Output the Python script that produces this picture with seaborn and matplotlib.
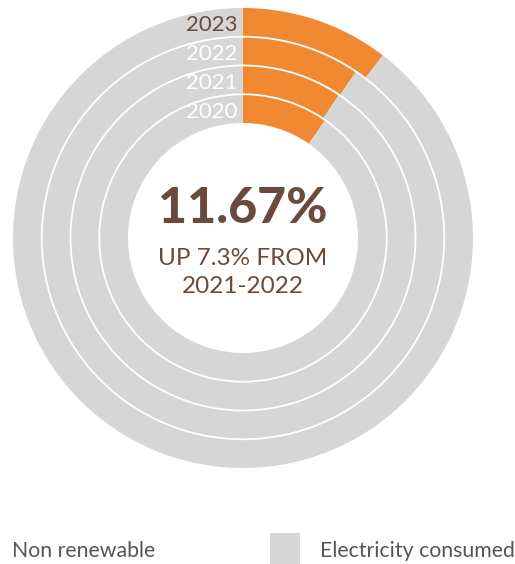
import matplotlib
matplotlib.use("Agg")
import matplotlib.pyplot as plt
from matplotlib.patches import Circle, Rectangle
import seaborn as sns

# ---- data ----
years = ["2020", "2021", "2022", "2023"]
non_renewable_share = [0.097, 0.094, 0.095, 0.104]
headline = "11.67%"
subtitle_lines = ["UP 7.3% FROM", "2021-2022"]
legend_labels = ["Non renewable", "Electricity consumed"]

ORANGE = "#F08931"
GREY = "#D6D6D6"
BROWN = "#6B4A3E"
LEGEND_TXT = "#555555"

sns.set_theme(style="white")
plt.rcParams["font.family"] = ["Lato", "DejaVu Sans"]

fig = plt.figure(figsize=(5.15, 5.64), dpi=100)
ax = fig.add_axes([13 / 515, 1 - 468 / 564, 460 / 515, 460 / 564])

ring_w = 0.125
n = len(years)
for i, (yr, v) in enumerate(zip(years, non_renewable_share)):
    r_out = 0.5 + ring_w * (i + 1)
    ax.pie([v, 1 - v], radius=r_out, startangle=90, counterclock=False,
           colors=[ORANGE, GREY],
           wedgeprops=dict(width=ring_w, linewidth=0, antialiased=True))
    # year label
    y_mid = r_out - ring_w / 2 - 0.013
    ax.text(-0.026, y_mid, yr, ha="right", va="center", fontsize=16,
            color=BROWN if i == n - 1 else "white")

# white separators between rings
for i in range(1, n):
    ax.add_patch(Circle((0, 0), 0.5 + ring_w * i, fill=False,
                        edgecolor="white", linewidth=1.3, zorder=5))

ax.text(0, 0.13, headline, ha="center", va="center", fontsize=36,
        fontweight="black", color=BROWN)
ax.text(0, -0.087, subtitle_lines[0], ha="center", va="center",
        fontsize=17.5, color=BROWN)
ax.text(0, -0.209, subtitle_lines[1], ha="center", va="center",
        fontsize=17.5, color=BROWN)

ax.set_xlim(-1, 1)
ax.set_ylim(-1, 1)
ax.set_aspect("equal")
ax.axis("off")

# legend
fig.text(12 / 515, 1 - 551 / 564, legend_labels[0], ha="left", va="center",
         fontsize=15.3, color=LEGEND_TXT)
fig.patches.append(Rectangle((270 / 515, 0), 30 / 515, 31 / 564,
                             transform=fig.transFigure, facecolor=GREY,
                             edgecolor="none"))
fig.text(320 / 515, 1 - 551 / 564, legend_labels[1], ha="left", va="center",
         fontsize=15.3, color=LEGEND_TXT)

fig.savefig("out.png", dpi=100)
